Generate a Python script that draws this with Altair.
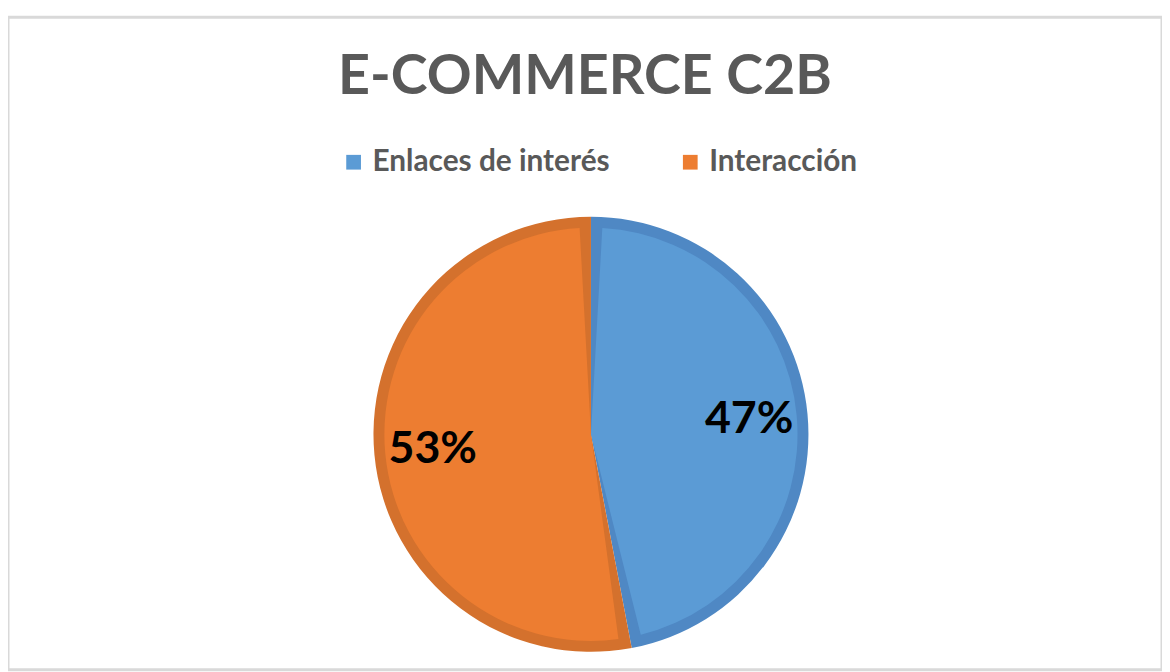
import altair as alt
import pandas as pd

categorias = ["Enlaces de interés", "Interacción"]
valores = [47, 53]
colores = ["#5B9BD5", "#ED7D31"]
colores_borde = ["#4F88C4", "#D4712D"]

df = pd.DataFrame({"categoria": categorias, "valor": valores})

dark_expr = (
    f"datum.categoria == '{categorias[0]}' ? '{colores_borde[0]}' : '{colores_borde[1]}'"
)

cx = alt.value(587)
cy = alt.value(420)

base = alt.Chart(df).encode(
    theta=alt.Theta("valor:Q", stack=True),
    order=alt.Order("idx:Q", sort="ascending"),
    x=cx,
    y=cy,
)

dark = base.mark_arc(outerRadius=219).encode(
    color=alt.Color("dark:N", scale=None)
)

light = base.mark_arc(outerRadius=208, padAngle=0.11).encode(
    color=alt.Color(
        "categoria:N",
        scale=alt.Scale(domain=categorias, range=colores),
        legend=alt.Legend(
            title=None,
            orient="none",
            legendX=333,
            legendY=131,
            direction="horizontal",
            symbolType="square",
            symbolSize=220,
            symbolStrokeWidth=0,
            labelFont="Lato",
            labelFontSize=30,
            labelFontWeight="bold",
            labelColor="#595959",
            labelOffset=4,
            labelLimit=500,
            columnPadding=66,
        ),
    )
)

labels = base.mark_text(
    radius=160, font="Lato", fontSize=45, fontWeight="bold", color="#000000"
).encode(text=alt.Text("etiqueta:N"))

chart = (
    alt.layer(dark, light, labels)
    .transform_window(idx="row_number()")
    .transform_calculate(dark=dark_expr, etiqueta="datum.valor + '%'")
    .properties(
        width=1162,
        height=657,
        padding={"left": 0, "top": 7, "right": 0, "bottom": 0},
        autosize=alt.AutoSizeParams(type="none"),
        title=alt.TitleParams(
            "E-COMMERCE C2B",
            font="Lato",
            fontSize=56,
            fontWeight="bold",
            color="#595959",
            anchor="middle",
            orient="top",
            baseline="alphabetic",
            offset=0,
            dy=133,
        ),
    )
    .configure_view(stroke="#d9d9d9", strokeWidth=3)
)

chart.save("out.html", embed_options={"renderer": "svg", "actions": False})
